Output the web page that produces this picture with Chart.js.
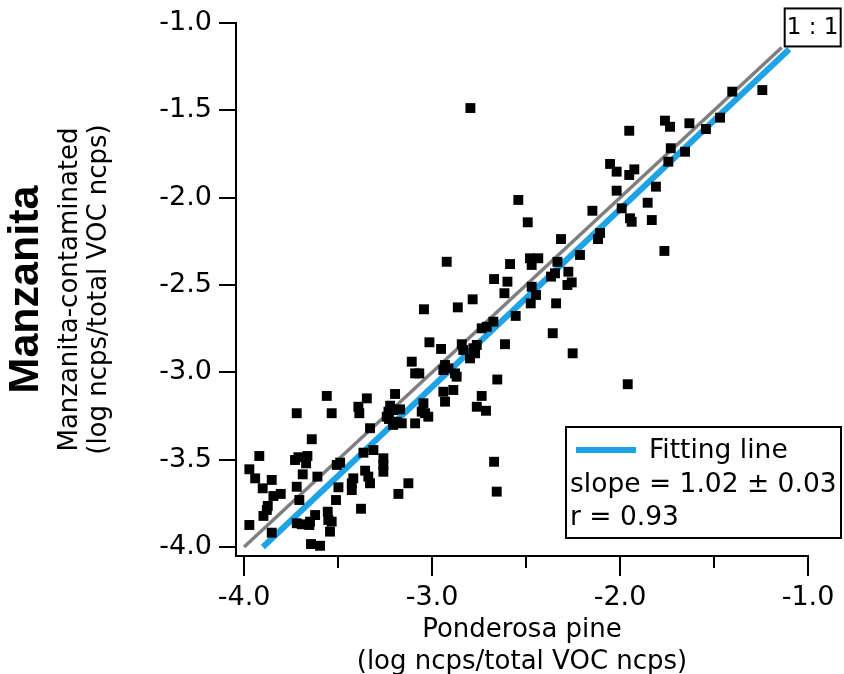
<!DOCTYPE html>
<html>
<head>
<meta charset="utf-8">
<script src="https://cdn.jsdelivr.net/npm/chart.js@4.4.1/dist/chart.umd.min.js"></script>
<style>
  html, body { margin: 0; padding: 0; background: #fff; }
  canvas { display: block; }
</style>
</head>
<body>
<canvas id="scatterChart" width="844" height="674"></canvas>
<script>
// Ponderosa pine (x) vs Manzanita-contaminated (y), log ncps / total VOC ncps
const pineVals = [
  -1.243, -1.403, -1.468, -1.543, -1.631, -1.761, -1.734, -1.951, -1.654, -1.730,
  -1.743, -2.053, -2.018, -1.924, -1.951, -1.809, -2.018, -1.853, -1.991, -1.947,
  -1.938, -1.831, -1.764, -2.106, -2.117, -2.541, -2.147, -2.491, -2.314, -2.479,
  -2.435, -2.470, -2.585, -2.213, -2.333, -2.275, -2.346, -2.367, -2.670, -2.599,
  -2.257, -2.280, -2.470, -2.447, -2.475, -2.615, -2.340, -2.555, -2.674, -2.358,
  -2.612, -2.252, -2.653, -2.922, -2.784, -3.043, -2.863, -2.709, -2.736, -3.014,
  -2.952, -2.762, -2.780, -2.771, -2.842, -2.834, -2.798, -3.108, -3.090, -3.068,
  -2.931, -2.940, -2.878, -2.869, -2.913, -3.197, -2.940, -2.887, -2.931, -2.736,
  -2.762, -2.713, -3.223, -3.206, -3.232, -3.241, -3.046, -3.055, -3.037, -3.020,
  -3.207, -2.670, -2.656, -2.796, -1.959, -3.560, -3.347, -3.392, -3.387, -3.720,
  -3.534, -3.170, -3.330, -3.161, -3.090, -3.229, -3.188, -3.640, -3.919, -3.729,
  -3.711, -3.663, -3.670, -3.365, -3.312, -3.259, -3.259, -3.259, -3.972, -3.941,
  -3.853, -3.688, -3.610, -3.489, -3.507, -3.356, -3.339, -3.330, -3.419, -3.427,
  -3.427, -3.901, -3.720, -3.498, -3.126, -3.179, -3.844, -3.805, -3.706, -3.511,
  -3.874, -3.879, -3.897, -3.378, -3.622, -3.555, -3.552, -3.534, -3.972, -3.720,
  -3.693, -3.653, -3.649, -3.853, -3.543, -3.644, -3.596
];
const manzanitaVals = [
  -1.384, -1.393, -1.542, -1.607, -1.574, -1.559, -1.594, -1.617, -1.737, -1.717,
  -1.794, -1.807, -1.851, -1.838, -1.870, -1.937, -1.960, -2.029, -2.061, -2.118,
  -2.138, -2.128, -2.305, -2.202, -2.237, -2.013, -2.075, -2.141, -2.237, -2.347,
  -2.347, -2.385, -2.380, -2.328, -2.367, -2.424, -2.433, -2.452, -2.466, -2.481,
  -2.485, -2.500, -2.510, -2.557, -2.605, -2.547, -2.605, -2.677, -2.710, -2.776,
  -2.839, -2.891, -3.041, -2.367, -2.582, -2.639, -2.628, -2.739, -2.748, -2.828,
  -2.866, -2.843, -2.862, -2.891, -2.839, -2.872, -2.920, -2.939, -3.006, -3.006,
  -2.958, -2.987, -3.006, -3.025, -2.977, -3.124, -3.111, -3.101, -3.168, -3.135,
  -3.197, -3.220, -3.191, -3.216, -3.225, -3.254, -3.177, -3.225, -3.234, -3.254,
  -3.301, -3.512, -3.683, -1.487, -3.068, -3.135, -3.149, -3.197, -3.234, -3.234,
  -3.234, -3.212, -3.320, -3.292, -3.292, -3.267, -3.283, -3.383, -3.479, -3.502,
  -3.486, -3.479, -3.521, -3.460, -3.445, -3.492, -3.530, -3.569, -3.555, -3.607,
  -3.616, -3.584, -3.597, -3.517, -3.530, -3.563, -3.597, -3.635, -3.607, -3.635,
  -3.674, -3.664, -3.655, -3.658, -3.635, -3.696, -3.708, -3.696, -3.731, -3.731,
  -3.765, -3.788, -3.822, -3.781, -3.817, -3.798, -3.845, -3.855, -3.874, -3.864,
  -3.870, -3.874, -3.855, -3.918, -3.912, -3.983, -3.993
];

// 1:1 reference line and fitted line end points
const oneToOneX = [-4.0, -1.14];
const oneToOneY = [-4.0, -1.14];
const fitLineX = [-3.90, -1.10];
const fitLineY = [-4.00, -1.15];

const xTicks = [-4.0, -3.0, -2.0, -1.0];
const xMinorTicks = [-3.5, -2.5, -1.5];
const yTicks = [-4.0, -3.5, -3.0, -2.5, -2.0, -1.5, -1.0];

const fitLabel = 'Fitting line';
const slopeLabel = 'slope = 1.02 \u00b1 0.03';
const rLabel = 'r = 0.93';

const BLUE = '#1ea4e6';
const GRAY = '#7f7f7f';
const FONT = "'DejaVu Sans', 'Liberation Sans', sans-serif";

const toPoints = (xs, ys) => xs.map((x, i) => ({ x: x, y: ys[i] }));

// tick marks (minor ones shorter), the 1:1 tag and the fit legend box
const decorations = {
    id: 'decorations',
    afterDraw(chart) {
        const { ctx, chartArea, scales: { x, y } } = chart;
        ctx.save();
        ctx.strokeStyle = '#000';
        ctx.lineWidth = 2;
        ctx.beginPath();
        yTicks.forEach(v => {
            const py = Math.round(y.getPixelForValue(v));
            ctx.moveTo(chartArea.left - 17, py);
            ctx.lineTo(chartArea.left, py);
        });
        xTicks.forEach(v => {
            const px = Math.round(x.getPixelForValue(v));
            ctx.moveTo(px, chartArea.bottom);
            ctx.lineTo(px, chartArea.bottom + 20);
        });
        xMinorTicks.forEach(v => {
            const px = Math.round(x.getPixelForValue(v));
            ctx.moveTo(px, chartArea.bottom);
            ctx.lineTo(px, chartArea.bottom + 12);
        });
        ctx.stroke();

        // "1 : 1" tag at the end of the reference line
        const tx = x.getPixelForValue(oneToOneX[1]);
        const ty = y.getPixelForValue(oneToOneY[1]);
        ctx.fillStyle = '#fff';
        ctx.fillRect(tx + 3, ty - 39, 56, 38);
        ctx.strokeRect(tx + 3, ty - 39, 56, 38);
        ctx.fillStyle = '#000';
        ctx.font = '23px ' + FONT;
        ctx.textAlign = 'center';
        ctx.textBaseline = 'middle';
        ctx.fillText('1 : 1', tx + 31, ty - 19);

        // legend box
        ctx.fillStyle = '#fff';
        ctx.fillRect(566, 427, 275, 111);
        ctx.strokeRect(566, 427, 275, 111);
        ctx.strokeStyle = BLUE;
        ctx.lineWidth = 6;
        ctx.beginPath();
        ctx.moveTo(576, 450);
        ctx.lineTo(636, 450);
        ctx.stroke();
        ctx.fillStyle = '#000';
        ctx.font = '26.5px ' + FONT;
        ctx.textAlign = 'left';
        ctx.fillText(fitLabel, 649, 451);
        ctx.fillText(slopeLabel, 570, 485);
        ctx.fillText(rLabel, 570, 518);
        ctx.restore();
    }
};

Chart.defaults.color = '#000';
Chart.defaults.font.family = FONT;

new Chart(document.getElementById('scatterChart'), {
    type: 'scatter',
    data: {
        datasets: [{
            label: 'samples',
            data: toPoints(pineVals, manzanitaVals),
            pointStyle: 'rect',
            pointRadius: 7,
            pointBorderWidth: 0,
            backgroundColor: '#000',
            order: 0
        }, {
            label: '1:1',
            data: toPoints(oneToOneX, oneToOneY),
            showLine: true,
            borderColor: GRAY,
            borderWidth: 3.5,
            pointRadius: 0,
            order: 1
        }, {
            label: fitLabel,
            data: toPoints(fitLineX, fitLineY),
            showLine: true,
            borderColor: BLUE,
            borderWidth: 6,
            pointRadius: 0,
            order: 2
        }]
    },
    options: {
        responsive: false,
        animation: false,
        devicePixelRatio: 1,
        layout: {
            padding: { left: 0, right: 36, top: 23, bottom: 0 }
        },
        plugins: {
            legend: { display: false },
            tooltip: { enabled: false },
            title: {
                display: true,
                text: 'Manzanita',
                position: 'left',
                fullSize: false,
                padding: 0,
                font: { family: "'Liberation Sans', Arial, sans-serif", size: 43, weight: 'bold', lineHeight: 1.2 }
            }
        },
        scales: {
            x: {
                type: 'linear',
                min: -4.043,
                max: -1.0,
                afterBuildTicks: scale => { scale.ticks = xTicks.map(v => ({ value: v })); },
                afterFit: scale => { scale.height = 118; },
                grid: { display: false, drawTicks: true, tickLength: 24 },
                border: { display: true, color: '#000', width: 2 },
                ticks: {
                    autoSkip: false,
                    maxRotation: 0,
                    padding: 2,
                    font: { size: 27 },
                    callback: v => v.toFixed(1)
                },
                title: {
                    display: true,
                    text: ['Ponderosa pine', '(log ncps/total VOC ncps)'],
                    padding: { top: 0, bottom: -4 },
                    font: { size: 26, lineHeight: 1.23 }
                }
            },
            y: {
                type: 'linear',
                min: -4.0515,
                max: -1.0,
                afterBuildTicks: scale => { scale.ticks = yTicks.map(v => ({ value: v })); },
                afterFit: scale => { scale.width = 184.4; },
                grid: { display: false, drawTicks: true, tickLength: 22 },
                border: { display: true, color: '#000', width: 2 },
                ticks: {
                    autoSkip: false,
                    padding: 2,
                    font: { size: 27 },
                    callback: v => v.toFixed(1)
                },
                title: {
                    display: true,
                    text: ['Manzanita-contaminated', '(log ncps/total VOC ncps)'],
                    padding: { top: 4, bottom: 0 },
                    font: { size: 26, lineHeight: 1.12 }
                }
            }
        }
    },
    plugins: [decorations]
});
</script>
</body>
</html>
